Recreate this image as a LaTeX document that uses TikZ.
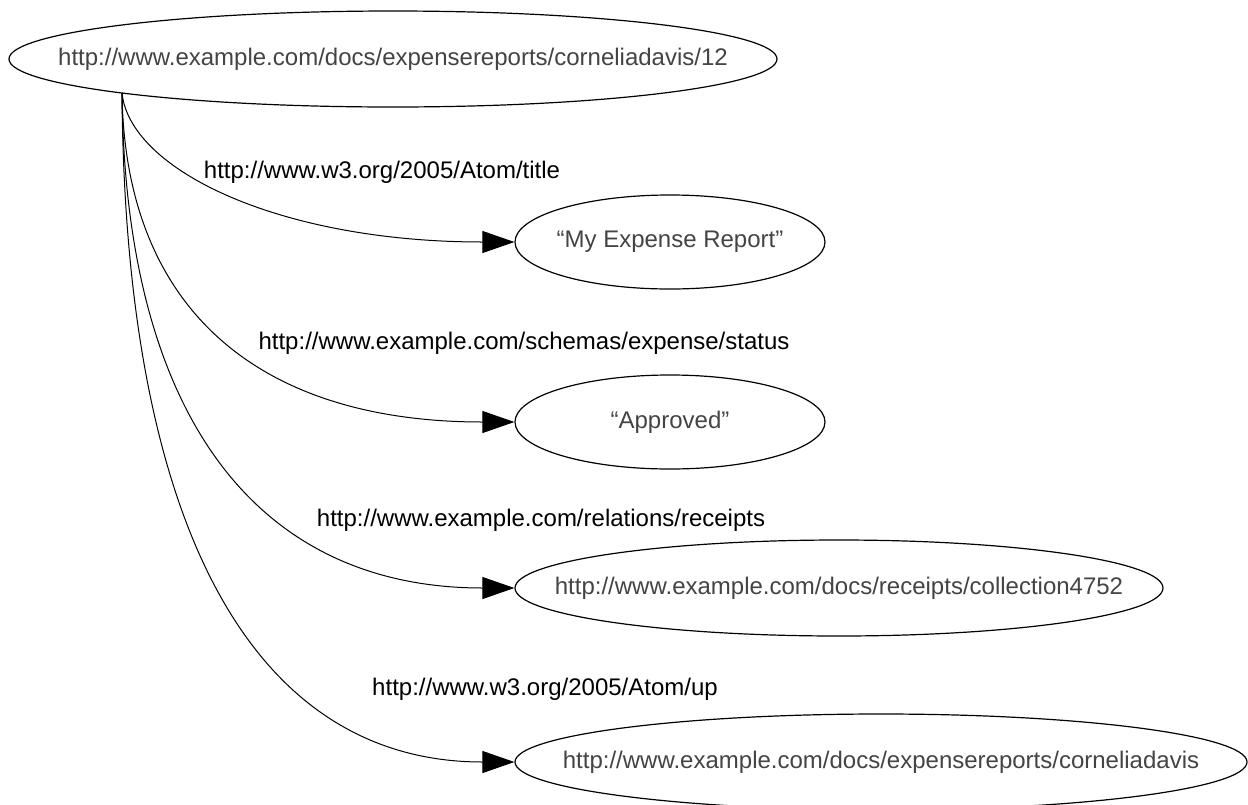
\documentclass[tikz,border=0pt]{standalone}
\usepackage{fontspec}
\setmainfont{Liberation Sans}
\usetikzlibrary{shapes.geometric,arrows.meta}
\definecolor{nodetext}{HTML}{444444}
\tikzset{
  vnode/.style={ellipse, draw=black, line width=0.6pt, inner sep=0pt},
  vtext/.style={text=nodetext, font=\fontsize{12}{14}\selectfont, inner sep=0pt},
  elabel/.style={text=black, font=\fontsize{12}{14}\selectfont, inner sep=0pt},
  rel/.style={line width=0.5pt, -{Triangle[length=16pt, width=11pt]}}
}
\begin{document}
\begin{tikzpicture}[x=0.5pt, y=-0.5pt]
\clip (0,0) rectangle (1248,804);
\fill[white] (0,0) rectangle (1248,804);

\node[vnode, minimum width=384pt, minimum height=48pt] (top) at (393,59) {};
\node[vtext] at (top.center) {http://www.example.com/docs/expensereports/corneliadavis/12};

\node[vnode, minimum width=155pt, minimum height=47pt] (e2) at (670,242) {};
\node[vtext] at (e2.center) {“My Expense Report”};

\node[vnode, minimum width=155pt, minimum height=47pt] (e3) at (670,422) {};
\node[vtext] at (e3.center) {“Approved”};

\node[vnode, minimum width=324pt, minimum height=48pt] (e4) at (839,588) {};
\node[vtext] at (e4.center) {http://www.example.com/docs/receipts/collection4752};

\node[vnode, minimum width=366pt, minimum height=48pt] (e5) at (881,762) {};
\node[vtext] at (e5.center) {http://www.example.com/docs/expensereports/corneliadavis};

\coordinate (s) at (122,93);

\draw[rel] (s) .. controls +(8,77) and +(-235,0) .. (e2.west);
\draw[rel] (s) .. controls +(3,217) and +(-255,0) .. (e3.west);
\draw[rel] (s) .. controls +(3,327) and +(-255,0) .. (e4.west);
\draw[rel] (s) .. controls +(3,447) and +(-255,0) .. (e5.west);

\node[elabel] (l1) at (382,172) {http://www.w3.org/2005/Atom/title};
\node[elabel] (l2) at (524,343) {http://www.example.com/schemas/expense/status};
\node[elabel] (l3) at (541,520) {http://www.example.com/relations/receipts};
\node[elabel] (l4) at (545,689) {http://www.w3.org/2005/Atom/up};
\end{tikzpicture}
\end{document}
